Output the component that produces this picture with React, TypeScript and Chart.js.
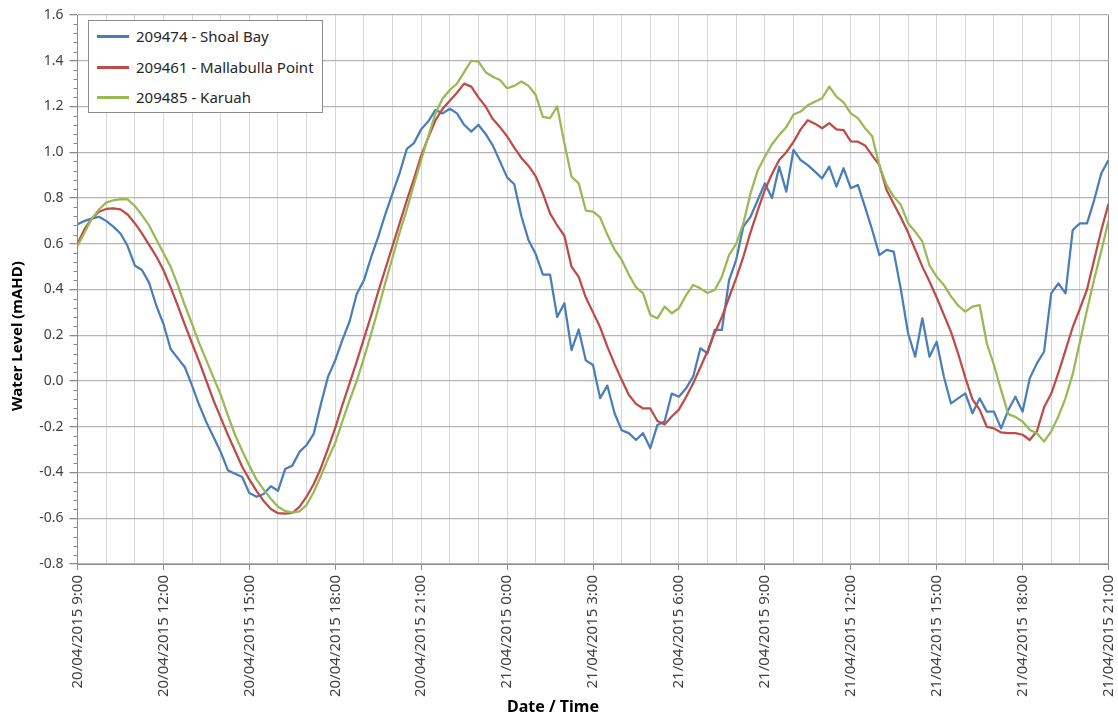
import React, { useEffect, useRef } from 'react';
import { Chart, registerables } from 'chart.js';

Chart.register(...registerables);

// Hours elapsed since 20/04/2015 9:00, sampled every 15 minutes
const SAMPLE_HOURS = 0.25;

const tickLabels = [
  '20/04/2015 9:00', '20/04/2015 12:00', '20/04/2015 15:00', '20/04/2015 18:00',
  '20/04/2015 21:00', '21/04/2015 0:00', '21/04/2015 3:00', '21/04/2015 6:00',
  '21/04/2015 9:00', '21/04/2015 12:00', '21/04/2015 15:00', '21/04/2015 18:00',
  '21/04/2015 21:00',
];

const seriesNames = ['209474 - Shoal Bay', '209461 - Mallabulla Point', '209485 - Karuah'];
const seriesColors = ['#4A7EBB', '#BE4B48', '#98B954'];

const shoalBay = [
  0.685, 0.70, 0.71, 0.718, 0.70, 0.675, 0.645, 0.59, 0.505, 0.485, 0.43, 0.33,
  0.25, 0.14, 0.10, 0.06, -0.02, -0.105, -0.18, -0.245, -0.31, -0.39, -0.405, -0.42,
  -0.49, -0.506, -0.494, -0.46, -0.48, -0.385, -0.37, -0.31, -0.28, -0.23, -0.10, 0.02,
  0.09, 0.18, 0.26, 0.38, 0.44, 0.54, 0.63, 0.73, 0.82, 0.91, 1.015, 1.04,
  1.10, 1.135, 1.185, 1.17, 1.19, 1.17, 1.12, 1.09, 1.12, 1.08, 1.03, 0.96,
  0.89, 0.86, 0.72, 0.615, 0.555, 0.465, 0.465, 0.28, 0.34, 0.135, 0.225, 0.09,
  0.07, -0.075, -0.02, -0.14, -0.215, -0.228, -0.258, -0.228, -0.294, -0.192, -0.177, -0.055,
  -0.069, -0.032, 0.02, 0.143, 0.121, 0.223, 0.223, 0.44, 0.53, 0.675, 0.718, 0.79,
  0.864, 0.80, 0.937, 0.828, 1.01, 0.966, 0.944, 0.915, 0.886, 0.937, 0.85, 0.93,
  0.843, 0.857, 0.76, 0.66, 0.55, 0.573, 0.566, 0.40, 0.21, 0.106, 0.274, 0.106,
  0.172, 0.02, -0.098, -0.076, -0.054, -0.141, -0.076, -0.134, -0.134, -0.207, -0.127, -0.069,
  -0.134, 0.012, 0.077, 0.128, 0.383, 0.427, 0.383, 0.66, 0.689, 0.689, 0.791, 0.908,
  0.966,
];

const mallabullaPoint = [
  0.60, 0.665, 0.71, 0.74, 0.752, 0.755, 0.75, 0.728, 0.69, 0.645, 0.595, 0.545,
  0.485, 0.41, 0.33, 0.245, 0.165, 0.085, 0.00, -0.085, -0.16, -0.235, -0.305, -0.375,
  -0.43, -0.48, -0.525, -0.56, -0.578, -0.58, -0.577, -0.55, -0.505, -0.45, -0.38, -0.295,
  -0.205, -0.105, -0.01, 0.085, 0.185, 0.285, 0.39, 0.49, 0.59, 0.69, 0.79, 0.885,
  0.985, 1.065, 1.14, 1.19, 1.225, 1.26, 1.30, 1.287, 1.24, 1.20, 1.145, 1.11,
  1.07, 1.02, 0.975, 0.94, 0.895, 0.82, 0.733, 0.68, 0.635, 0.50, 0.455, 0.365,
  0.30, 0.235, 0.15, 0.075, 0.005, -0.06, -0.10, -0.12, -0.12, -0.175, -0.19, -0.155,
  -0.125, -0.07, -0.01, 0.06, 0.13, 0.21, 0.28, 0.365, 0.45, 0.543, 0.65, 0.745,
  0.835, 0.905, 0.966, 1.00, 1.045, 1.10, 1.14, 1.125, 1.105, 1.127, 1.10, 1.097,
  1.048, 1.046, 1.03, 0.985, 0.945, 0.835, 0.775, 0.715, 0.65, 0.575, 0.50, 0.435,
  0.365, 0.29, 0.215, 0.12, 0.015, -0.08, -0.125, -0.20, -0.207, -0.225, -0.228, -0.228,
  -0.235, -0.258, -0.22, -0.115, -0.055, 0.035, 0.135, 0.235, 0.315, 0.40, 0.53, 0.66,
  0.775,
];

const karuah = [
  0.59, 0.65, 0.71, 0.75, 0.78, 0.79, 0.795, 0.794, 0.765, 0.725, 0.68, 0.62,
  0.56, 0.50, 0.42, 0.33, 0.25, 0.165, 0.09, 0.015, -0.06, -0.15, -0.235, -0.305,
  -0.37, -0.43, -0.475, -0.515, -0.55, -0.568, -0.575, -0.57, -0.542, -0.485, -0.415, -0.34,
  -0.27, -0.175, -0.085, 0.00, 0.10, 0.205, 0.315, 0.43, 0.54, 0.65, 0.75, 0.86,
  0.965, 1.07, 1.17, 1.235, 1.272, 1.30, 1.35, 1.40, 1.396, 1.35, 1.33, 1.316,
  1.28, 1.29, 1.309, 1.29, 1.25, 1.155, 1.149, 1.20, 1.04, 0.893, 0.864, 0.745,
  0.74, 0.715, 0.64, 0.575, 0.53, 0.465, 0.41, 0.383, 0.289, 0.274, 0.325, 0.296,
  0.318, 0.375, 0.42, 0.405, 0.385, 0.398, 0.456, 0.55, 0.60, 0.689, 0.82, 0.92,
  0.98, 1.035, 1.075, 1.11, 1.165, 1.178, 1.205, 1.221, 1.236, 1.287, 1.243, 1.218,
  1.17, 1.149, 1.105, 1.07, 0.94, 0.857, 0.806, 0.77, 0.69, 0.653, 0.61, 0.505,
  0.456, 0.42, 0.37, 0.33, 0.303, 0.325, 0.332, 0.165, 0.07, -0.04, -0.145, -0.157,
  -0.177, -0.214, -0.228, -0.265, -0.22, -0.155, -0.075, 0.03, 0.17, 0.31, 0.445, 0.57,
  0.70,
];

const FONT = "'Noto Sans', 'Open Sans', sans-serif";
const W = 1118;
const H = 718;

export default function App() {
  const ref = useRef<HTMLCanvasElement>(null);

  useEffect(() => {
    if (!ref.current) return;
    const toPoints = (arr: number[]) => arr.map((y, i) => ({ x: i * SAMPLE_HOURS, y }));
    const allSeries = [shoalBay, mallabullaPoint, karuah];

    const minorTicks = {
      id: 'minorTicks',
      afterDraw(chart: any) {
        const ys = chart.scales.y;
        const ctx = chart.ctx;
        ctx.save();
        ctx.strokeStyle = '#8a8a8a';
        ctx.lineWidth = 1;
        for (let k = 0; k <= 60; k++) {
          if (k % 5 === 0) continue;
          const v = -0.8 + k * 0.04;
          const py = Math.round(ys.getPixelForValue(v)) + 0.5;
          ctx.beginPath();
          ctx.moveTo(ys.right - 4, py);
          ctx.lineTo(ys.right, py);
          ctx.stroke();
        }
        ctx.restore();
      },
    };

    const axisTitles = {
      id: 'axisTitles',
      afterDraw(chart: any) {
        const ctx = chart.ctx;
        ctx.save();
        ctx.fillStyle = '#000000';
        ctx.textAlign = 'center';
        ctx.textBaseline = 'middle';
        ctx.font = `bold 15px ${FONT}`;
        ctx.translate(18, 336);
        ctx.rotate(-Math.PI / 2);
        ctx.fillText('Water Level (mAHD)', 0, 0);
        ctx.restore();
        ctx.save();
        ctx.fillStyle = '#000000';
        ctx.textAlign = 'center';
        ctx.textBaseline = 'middle';
        ctx.font = `bold 16px ${FONT}`;
        ctx.fillText('Date / Time', W / 2 - 6, 707);
        ctx.restore();
      },
    };

    const chart = new Chart(ref.current, {
      type: 'line',
      data: {
        datasets: allSeries.map((arr, i) => ({
          label: seriesNames[i],
          data: toPoints(arr),
          borderColor: seriesColors[i],
          backgroundColor: seriesColors[i],
          borderWidth: 2.25,
          pointRadius: 0,
          tension: 0,
          fill: false,
          borderJoinStyle: 'round' as const,
          order: 2 - i,
        })),
      },
      options: {
        animation: false,
        responsive: false,
        devicePixelRatio: 1,
        layout: { padding: { left: 0, right: 9.5, top: 15, bottom: 0 } },
        plugins: {
          legend: { display: false },
          tooltip: { enabled: false },
          title: { display: false },
        },
        scales: {
          x: {
            type: 'linear',
            min: 0,
            max: 36,
            afterFit: (axis: any) => {
              axis.height = 154;
              axis.paddingLeft = 0;
              axis.paddingRight = 0;
            },
            ticks: {
              stepSize: 1,
              autoSkip: false,
              minRotation: 90,
              maxRotation: 90,
              padding: 5,
              color: '#404040',
              font: { family: FONT, size: 15 },
              callback: (v: any) => {
                const n = Math.round(Number(v));
                return n % 3 === 0 ? tickLabels[n / 3] : '';
              },
            },
            grid: {
              color: (c: any) => (c.tick && Math.round(c.tick.value) === 36 ? '#8c8c8c' : '#d6d6d6'),
              lineWidth: 1,
              tickLength: 6,
              tickColor: (c: any) => (c.tick && Math.round(c.tick.value) % 3 === 0 ? '#8c8c8c' : 'rgba(0,0,0,0)'),
            },
            border: { color: '#8c8c8c', width: 1 },
          },
          y: {
            type: 'linear',
            min: -0.8,
            max: 1.6,
            afterFit: (axis: any) => {
              axis.width = 77.5;
              axis.paddingTop = 0;
              axis.paddingBottom = 0;
            },
            ticks: {
              stepSize: 0.2,
              padding: 6,
              color: '#404040',
              font: { family: FONT, size: 14 },
              callback: (v: any) => {
                const n = Number(v);
                return Math.abs(n) < 1e-9 ? '0.0' : n.toFixed(1);
              },
            },
            grid: {
              color: '#b4b4b4',
              lineWidth: 1.3,
              tickLength: 8,
              tickColor: '#8c8c8c',
            },
            border: { color: '#8c8c8c', width: 1 },
          },
        },
      },
      plugins: [minorTicks, axisTitles],
    });
    return () => chart.destroy();
  }, []);

  return (
    <div style={{ position: 'absolute', left: 0, top: 0, width: W, height: H, background: '#ffffff' }}>
      <canvas ref={ref} width={W} height={H} style={{ display: 'block', width: W, height: H }} />
      <div
        style={{
          position: 'absolute',
          left: 88,
          top: 20,
          width: 233,
          height: 91,
          background: '#ffffff',
          border: '1px solid #8c8c8c',
          fontFamily: FONT,
          fontSize: 15,
          color: '#262626',
        }}
      >
        {seriesNames.map((name, i) => (
          <div key={name} style={{ position: 'absolute', left: 0, top: 15 + i * 30.5 - 10, height: 20, width: '100%' }}>
            <div style={{ position: 'absolute', left: 8, top: 9, width: 32, height: 3, background: seriesColors[i] }} />
            <div style={{ position: 'absolute', left: 47, top: 0, lineHeight: '20px', whiteSpace: 'nowrap' }}>{name}</div>
          </div>
        ))}
      </div>
    </div>
  );
}
